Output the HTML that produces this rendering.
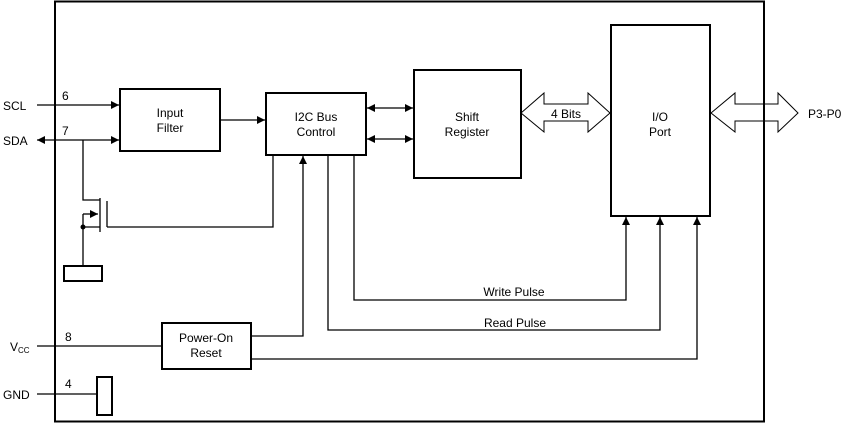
<!DOCTYPE html>
<html><head><meta charset="utf-8"><style>body{margin:0;background:#fff}svg{display:block}text{font-family:"Liberation Sans",Arial,sans-serif;font-size:12px;fill:#000}</style></head><body>
<svg width="843" height="425" viewBox="0 0 843 425" xmlns="http://www.w3.org/2000/svg">
<defs>
<marker id="a" viewBox="0 0 10 10" refX="10" refY="5" markerWidth="8" markerHeight="8" markerUnits="userSpaceOnUse" orient="auto-start-reverse"><path d="M0,0L10,5L0,10z" fill="#000"/></marker>
</defs>
<g fill="none" stroke="#000" stroke-width="1.3">
<rect x="55" y="1.5" width="709" height="420" stroke-width="2"/>
<rect x="120" y="89" width="100" height="62" stroke-width="2"/>
<rect x="266" y="93" width="100" height="62" stroke-width="2"/>
<rect x="414" y="70" width="107" height="108" stroke-width="2"/>
<rect x="611" y="25" width="99" height="191" stroke-width="2"/>
<rect x="162" y="323" width="89" height="46" stroke-width="2"/>
<rect x="97" y="377" width="15" height="38" stroke-width="2"/>
<rect x="64" y="266" width="38" height="15" stroke-width="2"/>
<line x1="37" y1="105" x2="119" y2="105" marker-end="url(#a)"/>
<line x1="37" y1="140" x2="119" y2="140" marker-start="url(#a)" marker-end="url(#a)"/>
<line x1="220" y1="120" x2="265" y2="120" marker-end="url(#a)"/>
<line x1="367" y1="108" x2="413" y2="108" marker-start="url(#a)" marker-end="url(#a)"/>
<line x1="367" y1="139" x2="413" y2="139" marker-start="url(#a)" marker-end="url(#a)"/>
<polyline points="83,140 83,200 100,200"/>
<line x1="100" y1="198" x2="100" y2="232"/>
<line x1="107" y1="201" x2="107" y2="227"/>
<polyline points="107,227 273,227 273,155"/>
<polyline points="83,214 98,214" marker-end="url(#a)"/>
<polyline points="83,214 83,266"/>
<line x1="83" y1="227" x2="100" y2="227"/>
<polyline points="251,336 303,336 303,156" marker-end="url(#a)"/>
<polyline points="354,155 354,300 626,300 626,217" marker-end="url(#a)"/>
<polyline points="328,155 328,330 660,330 660,217" marker-end="url(#a)"/>
<polyline points="251,359 697,359 697,217" marker-end="url(#a)"/>
<line x1="37" y1="346" x2="162" y2="346"/>
<line x1="37" y1="394" x2="97" y2="394"/>
<polygon points="521,113 544,93 544,104 588,104 588,93 610,113 588,132 588,121 544,121 544,132" stroke-width="1"/>
<polygon points="711,113 735,93 735,104 778,104 778,93 798,113 778,132 778,121 735,121 735,132" stroke-width="1"/>
</g>
<circle cx="83" cy="227" r="2.5" fill="#000"/>
<text x="3" y="110">SCL</text>
<text x="3" y="145">SDA</text>
<text x="62" y="100">6</text>
<text x="62" y="135">7</text>
<text x="65" y="341">8</text>
<text x="65" y="388">4</text>
<text x="10" y="351">V<tspan font-size="8" dy="2">CC</tspan></text>
<text x="3" y="399">GND</text>
<text x="170" y="117" text-anchor="middle">Input</text>
<text x="170" y="132" text-anchor="middle">Filter</text>
<text x="316" y="121" text-anchor="middle">I2C Bus</text>
<text x="316" y="136" text-anchor="middle">Control</text>
<text x="467" y="121" text-anchor="middle">Shift</text>
<text x="467" y="136" text-anchor="middle">Register</text>
<text x="660" y="121" text-anchor="middle">I/O</text>
<text x="660" y="136" text-anchor="middle">Port</text>
<text x="206" y="342" text-anchor="middle">Power-On</text>
<text x="206" y="357" text-anchor="middle">Reset</text>
<text x="566" y="118" text-anchor="middle">4 Bits</text>
<text x="808" y="118">P3-P0</text>
<text x="514" y="296" text-anchor="middle">Write Pulse</text>
<text x="515" y="327" text-anchor="middle">Read Pulse</text>
</svg>
</body></html>
